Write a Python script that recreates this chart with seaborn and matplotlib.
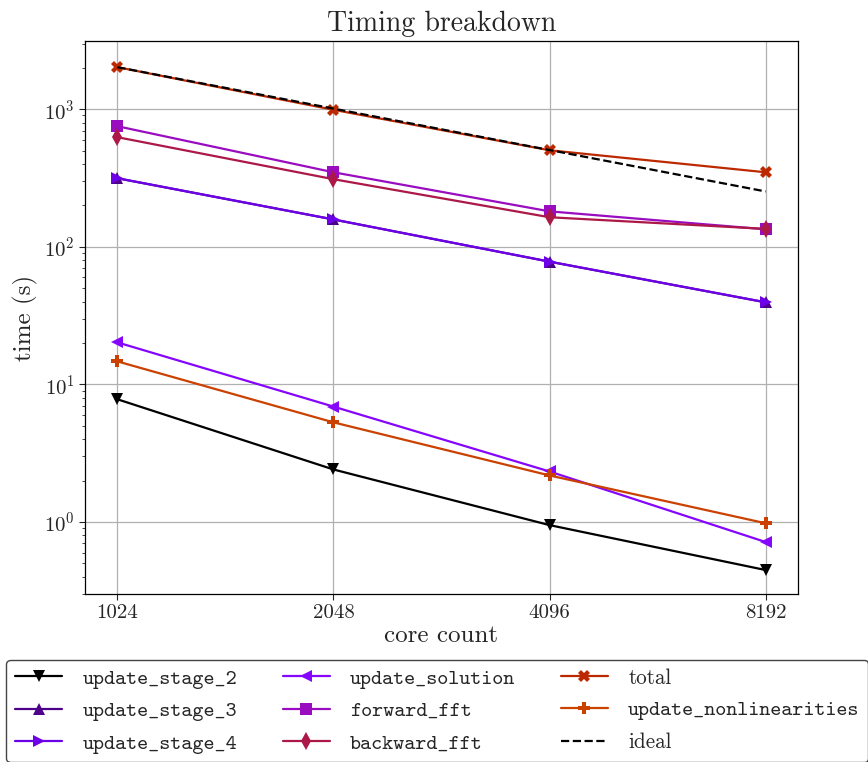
import matplotlib
matplotlib.use("Agg")
import matplotlib.pyplot as plt
import seaborn as sns
import numpy as np
from matplotlib.font_manager import FontProperties
from matplotlib.ticker import FixedLocator, FixedFormatter, NullLocator, NullFormatter

cores = [1024, 2048, 4096, 8192]
update_stage_2 = [7.8, 2.41, 0.95, 0.448]
update_stage_3 = [315, 158, 78, 39.5]
update_stage_4 = [315, 158, 78, 39.5]
update_solution = [20.2, 6.9, 2.33, 0.716]
forward_fft = [752, 348, 181, 134]
backward_fft = [626, 310, 164, 135]
total = [2020, 990, 503, 348]
update_nonlinearities = [14.7, 5.3, 2.18, 0.98]
ideal = [2020, 1010, 505, 252.5]
tick_labels = ["1024", "2048", "4096", "8192"]

series = [
    ("update_stage_2", update_stage_2, "v"),
    ("update_stage_3", update_stage_3, "^"),
    ("update_stage_4", update_stage_4, ">"),
    ("update_solution", update_solution, "<"),
    ("forward_fft", forward_fft, "s"),
    ("backward_fft", backward_fft, "d"),
    ("total", total, "X"),
    ("update_nonlinearities", update_nonlinearities, "P"),
]

sns.set_style("ticks")
plt.rcParams["font.family"] = "serif"
plt.rcParams["font.serif"] = ["cmr10"]
plt.rcParams["mathtext.fontset"] = "cm"
plt.rcParams["axes.formatter.use_mathtext"] = True
plt.rcParams["axes.unicode_minus"] = False

fig = plt.figure(figsize=(8.68, 7.62), dpi=100)
ax = fig.add_axes([85 / 868, 1 - 594 / 762, (798 - 85) / 868, (594 - 41) / 762])

cmap = plt.get_cmap("gnuplot")
for i, (name, vals, mk) in enumerate(series):
    sns.lineplot(x=cores, y=vals, ax=ax, color=cmap(i / 11), marker=mk,
                 markersize=9, markeredgewidth=0, linewidth=1.6, label=name)
sns.lineplot(x=cores, y=ideal, ax=ax, color="black", linestyle="--",
             linewidth=1.6, label="ideal")

ax.set_xscale("log", base=2)
ax.set_yscale("log")
ax.set_xlim(2 ** (10 - 0.15), 2 ** (13 + 0.15))
ax.set_ylim(0.30, 3130)
ax.xaxis.set_major_locator(FixedLocator(cores))
ax.xaxis.set_major_formatter(FixedFormatter(tick_labels))
ax.xaxis.set_minor_locator(NullLocator())
ax.tick_params(axis="both", which="major", labelsize=15, direction="out", length=4)
ax.tick_params(axis="y", which="minor", direction="out", length=2.5)
ax.grid(True, which="major", color="#b0b0b0", linewidth=0.9)
for s in ax.spines.values():
    s.set_linewidth(0.9)
    s.set_color("black")

ax.set_title("Timing breakdown", fontsize=20, pad=7)
ax.set_xlabel("core count", fontsize=18, labelpad=2)
ax.set_ylabel("time (s)", fontsize=18)

leg = ax.legend(loc="upper center", bbox_to_anchor=(0.494, -0.119), ncol=3,
                prop=FontProperties(family="cmtt10", size=15.2),
                frameon=True, fancybox=True, edgecolor="#444444",
                borderaxespad=0, handlelength=2.25, handletextpad=0.95,
                columnspacing=2.15, labelspacing=0.6)
for t in leg.get_texts():
    if t.get_text() in ("total", "ideal"):
        t.set_fontfamily("cmr10")
leg.get_frame().set_alpha(1.0)

fig.savefig("out.png", dpi=100)
